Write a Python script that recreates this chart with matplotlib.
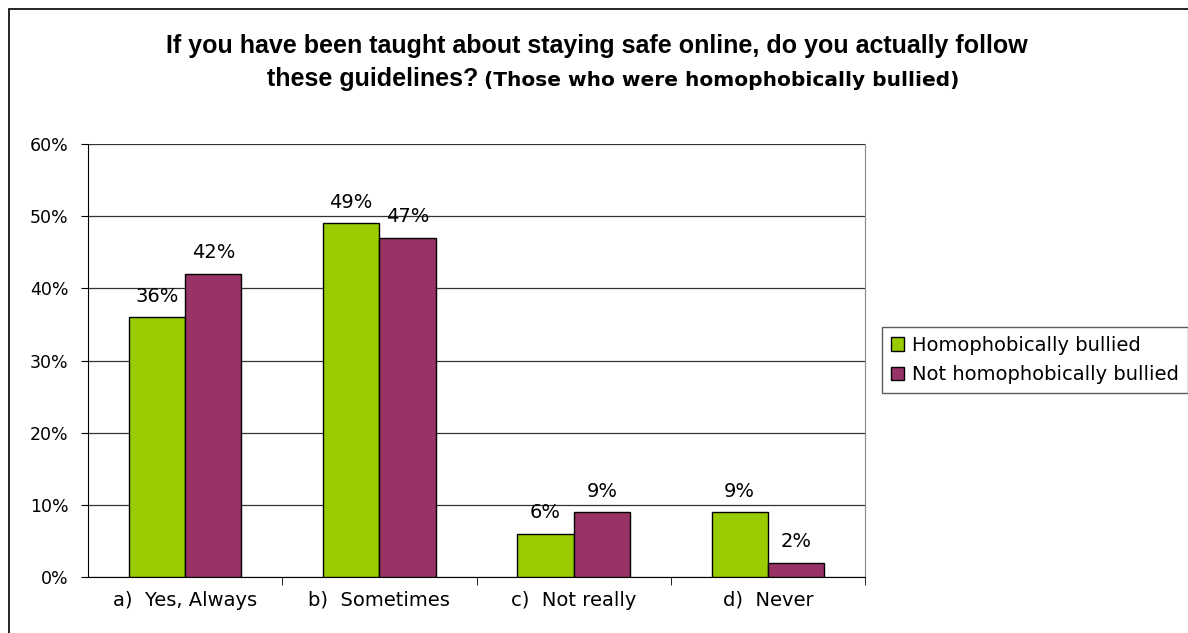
import numpy as np
import matplotlib.pyplot as plt
from matplotlib.patches import Rectangle, Patch

plt.rcParams['font.family'] = ['DejaVu Sans']

categories = ["a)  Yes, Always", "b)  Sometimes", "c)  Not really", "d)  Never"]
bullied = [36, 49, 6, 9]
not_bullied = [42, 47, 9, 2]
series_names = ["Homophobically bullied", "Not homophobically bullied"]
colors = ["#99cc00", "#993366"]

W, H = 1188, 633
fig = plt.figure(figsize=(W / 100, H / 100), dpi=100)

# outer chart frame, runs off the right and bottom edges
fig.patches.append(Rectangle((9 / W, -0.1), 1.2, 1 - 9 / H + 0.1, transform=fig.transFigure,
                             fill=False, edgecolor="black", linewidth=1.2))

ax = fig.add_axes([88 / W, 1 - 577 / H, (865 - 88) / W, (577 - 144) / H])

x = np.arange(len(categories))
bw = 0.29
b1 = ax.bar(x - bw / 2, bullied, bw, color=colors[0], edgecolor="black", linewidth=1, zorder=3)
b2 = ax.bar(x + bw / 2, not_bullied, bw, color=colors[1], edgecolor="black", linewidth=1, zorder=3)

for bars, vals in ((b1, bullied), (b2, not_bullied)):
    for rect, v in zip(bars, vals):
        ax.text(rect.get_x() + rect.get_width() / 2, v + 1.6, f"{v}%",
                ha="center", va="bottom", fontsize=14)

ax.set_xlim(-0.5, len(categories) - 0.5)
ax.set_ylim(0, 60)
ax.set_yticks(range(0, 61, 10))
ax.set_yticklabels([f"{t}%" for t in range(0, 61, 10)], fontsize=12.5)
ax.yaxis.grid(True, color="#333333", linewidth=0.9, zorder=0)

ax.set_xticks(x)
ax.set_xticklabels(categories, fontsize=14)
ax.tick_params(axis="x", length=0, pad=10)
ax.set_xticks(np.arange(0.5, len(categories), 1), minor=True)
ax.tick_params(axis="x", which="minor", length=6, direction="out", color="black")
ax.tick_params(axis="y", length=5, direction="out", pad=9)

ax.spines["top"].set_visible(False)
ax.spines["right"].set_color("#888888")
ax.spines["left"].set_color("black")
ax.spines["bottom"].set_color("black")

handles = [Patch(facecolor=c, edgecolor="black") for c in colors]
fig.legend(handles, series_names, loc="upper left", bbox_to_anchor=(882 / W, 1 - 327 / H),
           fontsize=14, frameon=True, fancybox=False, edgecolor="#333333",
           handlelength=0.7, handleheight=0.7, handletextpad=0.4, borderpad=0.45,
           labelspacing=0.55, borderaxespad=0)

fig.text(597 / W, 1 - 46 / H, "If you have been taught about staying safe online, do you actually follow",
         ha="center", va="center", fontsize=18, fontweight="bold", family="Liberation Sans")
fig.text(478 / W, 1 - 79 / H, "these guidelines?", ha="right", va="center",
         fontsize=18, fontweight="bold", family="Liberation Sans")
fig.text(484 / W, 1 - 80 / H, "(Those who were homophobically bullied)", ha="left", va="center",
         fontsize=14.5, fontweight="bold")

fig.savefig("out.png", dpi=100)
